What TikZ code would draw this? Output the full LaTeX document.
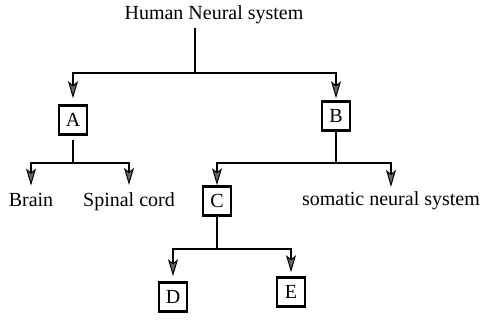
\documentclass[tikz,border=0pt]{standalone}
\usepackage{fontspec}
\setmainfont{Liberation Serif}
\usetikzlibrary{arrows.meta}
\begin{document}
\begin{tikzpicture}[x=1pt,y=-1pt,
  txt/.style={inner sep=0pt,font=\fontsize{20}{24}\selectfont,anchor=base},
  letterbox/.style={draw,line width=2.6pt,minimum width=28pt,minimum height=29pt,inner sep=0pt,font=\fontsize{20}{24}\selectfont},
  conn/.style={line width=2.3pt},
  arr/.style={conn,-{Stealth[length=17pt,width=10pt,inset=4pt,line width=1pt,fill=black!60]}},
]
\useasboundingbox (0,0) rectangle (481,320);
% nodes
\node[txt] (title) at (214,20) {Human Neural system};
\node[letterbox] (A) at (73,120) {A};
\node[letterbox] (B) at (336,116) {B};
\node[txt] (brain) at (31,207) {Brain};
\node[txt] (spinal) at (129,207) {Spinal cord};
\node[letterbox] (C) at (217,201) {C};
\node[txt] (somatic) at (391,205) {somatic neural system};
\node[letterbox] (D) at (173,297) {D};
\node[letterbox] (E) at (291,292) {E};
% junctions
\coordinate (j1) at (195,73);
\coordinate (j2) at (73,163);
\coordinate (j3) at (336,163);
\coordinate (j4) at (217,249);
% connectors
\draw[conn] (j1 |- title.south) ++(0,3) -- (j1);
\draw[arr,shorten >=6pt] (j1) -| (A.north);
\draw[arr,shorten >=2pt] (j1) -| (B.north);
\draw[conn] (A.south) ++(0,4) -- (j2);
\draw[arr,shorten >=8pt] (j2) -| (brain.north);
\draw[arr,shorten >=8pt] (j2) -| (spinal.north);
\draw[conn] (B.south) -- (j3);
\draw[arr,shorten >=0pt] (j3) -| (C.north);
\draw[arr,shorten >=4pt] (j3) -| (somatic.north);
\draw[conn] (C.south) -- (j4);
\draw[arr,shorten >=5pt] (j4) -| (D.north);
\draw[arr,shorten >=4pt] (j4) -| (E.north);
\end{tikzpicture}
\end{document}
